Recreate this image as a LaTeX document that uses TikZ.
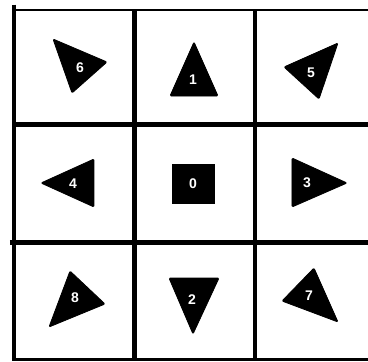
\documentclass[tikz,border=0pt]{standalone}
\usepackage{fontspec}
\setmainfont{Liberation Sans}
\begin{document}
\begin{tikzpicture}[x=1pt,y=-1pt,
  gridline/.style={line width=4.6pt, line cap=butt},
  edgeline/.style={line width=2.2pt, line cap=butt},
  tri/.style={fill=black, draw=black, line width=0.8pt, rounded corners=1.2pt, line join=round},
  lab/.style={text=white, font=\bfseries\fontsize{14}{14}\selectfont, inner sep=0pt}]
\useasboundingbox (0,0) rectangle (368,362);
\fill[white] (0,0) rectangle (368,362);
% grid
\draw[edgeline] (12,10) -- (368,10);
\draw[edgeline] (12,359.5) -- (368,359.5);
\draw[gridline] (14,4.5) -- (14,361);
\draw[gridline] (134.5,10) -- (134.5,359);
\draw[gridline] (255,10) -- (255,359);
\draw[gridline] (14,124.5) -- (368,124.5);
\draw[gridline] (10,242.5) -- (368,242.5);
% shapes
\filldraw[tri] (53,39) -- (107,62) -- (72,93) -- cycle;
\filldraw[tri] (194,42) -- (218,96) -- (170,96) -- cycle;
\filldraw[tri] (338,43) -- (284,67) -- (319,99) -- cycle;
\filldraw[tri] (41,183) -- (94,159) -- (94,207) -- cycle;
\fill[black] (172,164) rectangle (215,204);
\filldraw[tri] (292,158) -- (347,183) -- (292,207) -- cycle;
\filldraw[tri] (70,271) -- (105,304) -- (49,327) -- cycle;
\filldraw[tri] (169,278) -- (219,278) -- (193,334) -- cycle;
\filldraw[tri] (314,268) -- (282,301) -- (338,322) -- cycle;
% labels
\node[lab] (n6) at (80,68) {6};
\node[lab] (n1) at (193,80) {1};
\node[lab] (n5) at (311,73) {5};
\node[lab] (n4) at (73,184) {4};
\node[lab] (n0) at (193,184) {0};
\node[lab] (n3) at (307,183) {3};
\node[lab] (n8) at (75,298) {8};
\node[lab] (n2) at (192,300) {2};
\node[lab] (n7) at (309,296) {7};
\end{tikzpicture}
\end{document}
